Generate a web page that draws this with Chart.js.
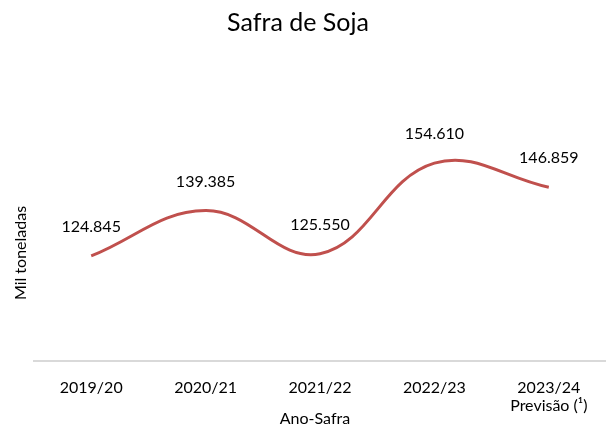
<!DOCTYPE html>
<html>
<head>
<meta charset="utf-8">
<script src="https://cdn.jsdelivr.net/npm/chart.js@4"></script>
<style>
    html, body { margin: 0; padding: 0; background: #fff; }
    #wrap { width: 606px; height: 428px; }
</style>
</head>
<body>
<div id="wrap"><canvas id="safra"></canvas></div>
<script>
// dados do grafico
const titulo = 'Safra de Soja';
const tituloY = 'Mil toneladas';
const tituloX = 'Ano-Safra';
const safras = ['2019/20', '2020/21', '2021/22', '2022/23', ['2023/24', 'Previsão (¹)']];
const producao = [124845, 139385, 125550, 154610, 146859];

// formata 124845 -> 124.845
function formatar(v) {
    return String(v).replace(/\B(?=(\d{3})+(?!\d))/g, '.');
}

// titulo, rotulos acima dos pontos e titulos dos eixos
const textos = {
    id: 'textos',
    afterDatasetsDraw(chart) {
        const c = chart.ctx;
        const meta = chart.getDatasetMeta(0);
        c.save();
        c.fillStyle = '#000';
        c.textAlign = 'center';
        c.textBaseline = 'middle';

        c.font = '25px Lato';
        c.fillText(titulo, 298, 23);

        c.font = '16px Lato';
        meta.data.forEach(function (pt, i) {
            c.fillText(formatar(chart.data.datasets[0].data[i]), pt.x, pt.y - 29);
        });

        c.fillText(tituloX, 315, 419);

        c.translate(21, 253);
        c.rotate(-Math.PI / 2);
        c.fillText(tituloY, 0, 0);
        c.restore();
    }
};

const ctx = document.getElementById('safra').getContext('2d');
const grafico = new Chart(ctx, {
    type: 'line',
    data: {
        labels: safras,
        datasets: [{
            label: 'Produção',
            data: producao,
            borderColor: '#c0504d',
            borderWidth: 3,
            tension: 0.4,
            pointRadius: 0,
            fill: false
        }]
    },
    options: {
        animation: false,
        responsive: true,
        maintainAspectRatio: false,
        layout: {
            padding: { left: 34, right: 0, top: 112, bottom: -4 }
        },
        plugins: {
            legend: { display: false },
            tooltip: { enabled: false },
            title: { display: false }
        },
        scales: {
            x: {
                offset: true,
                grid: { display: false, drawTicks: false },
                border: { display: true, color: '#d9d9d9', width: 2 },
                ticks: {
                    color: '#000',
                    padding: 17,
                    maxRotation: 0,
                    font: { family: 'Lato', size: 16, lineHeight: 1.15 }
                }
            },
            y: {
                display: false,
                min: 91100,
                max: 171000
            }
        }
    },
    plugins: [textos]
});
</script>
</body>
</html>
